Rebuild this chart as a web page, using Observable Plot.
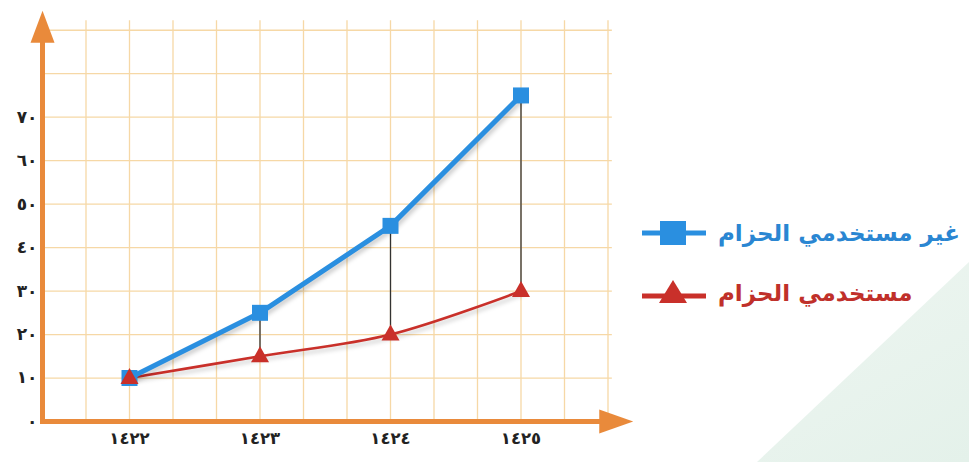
<!DOCTYPE html>
<html>
<head>
<meta charset="utf-8">
<script src="https://cdn.jsdelivr.net/npm/d3@7"></script>
<script src="https://cdn.jsdelivr.net/npm/@observablehq/plot@0.6"></script>
<style>
  html, body { margin: 0; padding: 0; background: #fff; }
  #wrap { position: relative; width: 969px; height: 462px; overflow: hidden; }
  #shade { position: absolute; left: 0; top: 0; width: 969px; height: 462px;
    background: linear-gradient(150deg, #f2f8f4 55%, #e4f1ea 100%);
    clip-path: polygon(757px 462px, 969px 262px, 969px 462px); }
  #chart { position: absolute; left: 0; top: 0; }
  .shadow { filter: drop-shadow(2px 3px 2px rgba(0,0,0,0.2)); }
  .legend { position: absolute; left: 640px; font-family: "DejaVu Sans", sans-serif; font-weight: bold; font-size: 23px; display: flex; align-items: center; }
  .legend svg { margin-right: 10px; }
</style>
</head>
<body>
<div id="wrap"><div id="shade"></div><div id="chart"></div></div>
<script>
const years = [1422, 1423, 1424, 1425];
const nonUsers = [10, 25, 45, 75];
const users = [10, 15, 20, 30];
const seriesNames = ["غير مستخدمي الحزام", "مستخدمي الحزام"];
const seriesColors = ["#2a8fe0", "#c9302a"];
const legendTextColors = ["#2a86d2", "#c0302a"];
const yTicks = [0, 10, 20, 30, 40, 50, 60, 70];
const yTickLabels = ["٠", "١٠", "٢٠", "٣٠", "٤٠", "٥٠", "٦٠", "٧٠"];
const xTickLabels = ["١٤٢٢", "١٤٢٣", "١٤٢٤", "١٤٢٥"];
const gridYValues = [10, 20, 30, 40, 50, 60, 70, 80, 90];

const xMin = 1421 + 1 / 3, xMax = 1426 + 1 / 3;
const gridXValues = d3.range(1, 14).map(i => xMin + i / 3);
const gridXEnd = 1425.7, gridYEnd = 92.2;
const yArrowTip = 94.5, xArrowTip = 1425.86;

const rows = years.map((y, i) => ({year: y, nonUsers: nonUsers[i], users: users[i]}));
const orange = "#e98a3b";

const arrowUp = {draw(ctx) { ctx.moveTo(0, 0); ctx.lineTo(-12, 32); ctx.lineTo(12, 32); ctx.closePath(); }};
const arrowRight = {draw(ctx) { ctx.moveTo(0, 0); ctx.lineTo(-34, -12); ctx.lineTo(-34, 12); ctx.closePath(); }};
const squareSym = {draw(ctx) { ctx.rect(-8, -8, 16, 16); }};
const triSym = {draw(ctx) { ctx.moveTo(0, -10); ctx.lineTo(9, 6); ctx.lineTo(-9, 6); ctx.closePath(); }};

const plot = Plot.plot({
  width: 969,
  height: 462,
  marginLeft: 42,
  marginRight: 274.5,
  marginTop: 8,
  marginBottom: 41,
  style: {background: "transparent", fontFamily: "DejaVu Sans, sans-serif", fontSize: "17px", fontWeight: "bold", color: "#222"},
  x: {domain: [xMin, xMax]},
  y: {domain: [0, 95]},
  marks: [
    Plot.ruleX(gridXValues, {y1: 0, y2: gridYEnd, stroke: "#f6d8a6", strokeWidth: 1.3}),
    Plot.ruleY(gridYValues, {x1: xMin, x2: gridXEnd, stroke: "#f6d8a6", strokeWidth: 1.3}),
    Plot.axisY(yTicks, {tickSize: 0, tickPadding: 5, tickFormat: (d, i) => yTickLabels[i], fill: "#222", fontSize: 17}),
    Plot.axisX(years, {tickSize: 0, tickPadding: 11, tickFormat: (d, i) => xTickLabels[i], fill: "#222", fontSize: 16.5}),
    Plot.ruleX(rows.slice(1), {x: "year", y1: "users", y2: "nonUsers", stroke: "#333", strokeWidth: 1.3}),
    Plot.line(rows, {x: "year", y: "users", stroke: seriesColors[1], strokeWidth: 2.6, curve: "catmull-rom", className: "shadow"}),
    Plot.line(rows, {x: "year", y: "nonUsers", stroke: seriesColors[0], strokeWidth: 5, className: "shadow"}),
    Plot.dot(rows, {x: "year", y: "nonUsers", symbol: squareSym, fill: seriesColors[0], stroke: "none"}),
    Plot.dot(rows, {x: "year", y: "users", symbol: triSym, fill: seriesColors[1], stroke: "none"}),
    Plot.ruleX([xMin], {y1: -0.7, y2: yArrowTip - 6, stroke: orange, strokeWidth: 5}),
    Plot.ruleY([0], {x1: xMin - 0.01, x2: xArrowTip - 0.2, stroke: orange, strokeWidth: 5}),
    Plot.dot([{x: xMin, y: yArrowTip}], {x: "x", y: "y", symbol: arrowUp, fill: orange, stroke: "none"}),
    Plot.dot([{x: xArrowTip, y: 0}], {x: "x", y: "y", symbol: arrowRight, fill: orange, stroke: "none"})
  ]
});
document.getElementById("chart").appendChild(plot);

const wrap = document.getElementById("wrap");
const legendTops = [220, 280];
seriesNames.forEach((name, i) => {
  const div = document.createElement("div");
  div.className = "legend";
  div.style.top = legendTops[i] + "px";
  div.style.color = legendTextColors[i];
  const marker = i === 0
    ? `<rect x="20" y="1" width="26" height="24" fill="${seriesColors[0]}"/>`
    : `<path d="M33 0 L47 23 L19 23 Z" fill="${seriesColors[1]}"/>`;
  div.innerHTML = `<svg width="68" height="26"><line x1="2" x2="66" y1="${i === 0 ? 13 : 16}" y2="${i === 0 ? 13 : 16}" stroke="${seriesColors[i]}" stroke-width="5"/>${marker}</svg><span dir="rtl">${name}</span>`;
  wrap.appendChild(div);
});
</script>
</body>
</html>
